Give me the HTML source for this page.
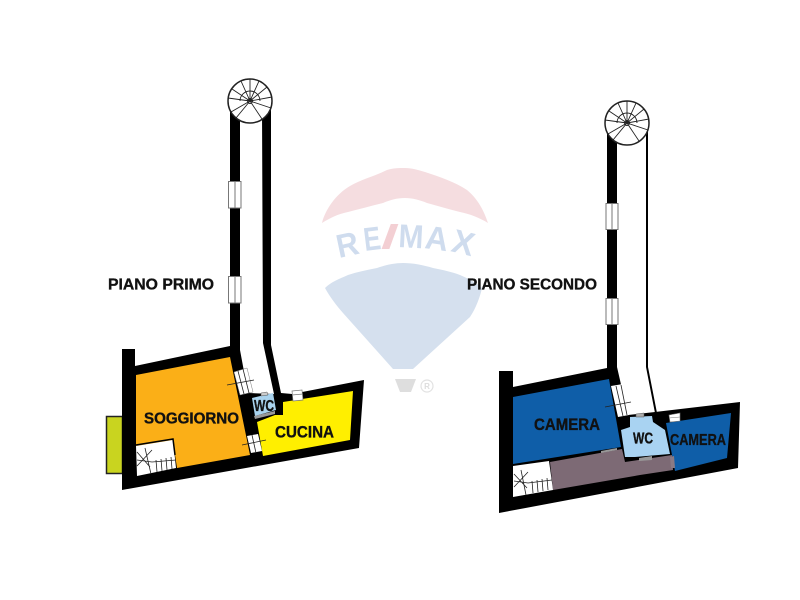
<!DOCTYPE html>
<html>
<head>
<meta charset="utf-8">
<style>
html,body{margin:0;padding:0;background:#fff;}
svg{display:block;}
text{font-family:"Liberation Sans",sans-serif;font-weight:bold;}
.l{fill:#111;stroke:#111;stroke-width:.35px;}
</style>
</head>
<body>
<svg width="800" height="600" viewBox="0 0 800 600" xmlns="http://www.w3.org/2000/svg">
<rect width="800" height="600" fill="#fff"/>

<!-- Balloon watermark -->
<path d="M322 223 C325 210 336 194 350 186 C362 179 375 176 387 170 C393 168 399 168 405 168 C412 168 418 170 425 172 C440 177 455 182 467 190 C478 199 484 211 488 223 C480 218 470 214 460 212 C448 209 438 206 427 203 C420 200 412 198 405 198 C397 198 390 200 383 203 C371 206 360 209 348 212 C338 214 330 218 322 223Z" fill="#f5dde0"/>
<path d="M325 288 C331 282 339 279 348 275 C357 272 367 270 377 268 C386 265 394 263 403 263 C413 263 423 265 433 268 C443 270 452 272 460 275 C469 279 477 283 482 288 C480 297 476 308 470 317 L413 369 L393 369 L343 313 C336 305 330 297 325 288Z" fill="#d5e0ee"/>
<path d="M395 379 L416 379 L411 392 L400 392Z" fill="#dedede"/>
<circle cx="427" cy="386" r="6" fill="none" stroke="#e2e2e2" stroke-width="1.200"/>
<text x="427" y="389" font-size="8" text-anchor="middle" style="fill:#dddddd">R</text>
<g font-size="33">
<text transform="translate(339 258) rotate(-12)" textLength="22" lengthAdjust="spacingAndGlyphs" style="fill:#cfdcee">R</text>
<text transform="translate(365 251) rotate(-7)" textLength="17" lengthAdjust="spacingAndGlyphs" style="fill:#cfdcee">E</text>
<text transform="translate(381 248)" textLength="18" lengthAdjust="spacingAndGlyphs" style="fill:#f3cfd3">/</text>
<text transform="translate(398 247) rotate(3)" textLength="25" lengthAdjust="spacingAndGlyphs" style="fill:#cfdcee">M</text>
<text transform="translate(424 248) rotate(8)" textLength="23" lengthAdjust="spacingAndGlyphs" style="fill:#cfdcee">A</text>
<text transform="translate(450 251) rotate(14)" textLength="22" lengthAdjust="spacingAndGlyphs" style="fill:#cfdcee">X</text>
</g>

<!-- PLAN 1 -->
<rect x="106.500" y="416.500" width="16" height="57" fill="#c9d41f" stroke="#222" stroke-width="1.500"/>
<path d="M122 349 L135 349 L135 366 L230 346 L230 108 L240 108 L240 350 L248 393 L274 394 L263 343 L262 108 L271 108 L271 345 L281 393 L292 394 L364 380 L359 448 L122 490Z" fill="#000"/>
<path d="M136 375 L230 357 L250 455 L177 468 L173 441 L136 446Z" fill="#fbaf17"/>
<path d="M136 446 L173 440 L176 468 L137 476Z" fill="#fff"/>
<path d="M136 445 L173 439 L175 455" fill="none" stroke="#000" stroke-width="1.500"/>
<path d="M137 452 L150 467 M137 466 L152 450 M145 448 L151 474 M137 460 L152 462 M152 462 L176 460 M156 460 L157 472 M161 459 L162 471 M166 458 L167 470 M171 457 L172 469" stroke="#222" stroke-width=".8" fill="none"/>
<path d="M257 422 L275 415 L283 415 L283 402 L353 391 L350 440 L263 456Z" fill="#ffef00"/>
<path d="M252 398 L273 393 L276 410 L255 416Z" fill="#a9d3ee"/>
<path d="M254 416 L275 411 L275 414 L255 419Z" fill="#999"/>
<path d="M261 393 L267 392 L268 395 L261 396Z" fill="#ccc" stroke="#555" stroke-width=".5"/>
<path d="M292 391 L302 390 L303 400 L293 401Z" fill="#fff" stroke="#777" stroke-width=".7"/>
<path d="M292 395 L303 394" stroke="#777" stroke-width=".7"/>
<path d="M234 372 L247 368 L253 392 L240 395Z" fill="#fff" stroke="#777" stroke-width=".5"/>
<path d="M227 385 L254 380 M238 371 L244 394 M243 369 L249 393" stroke="#222" stroke-width=".8"/>
<path d="M247 436 L258 434 L262 451 L251 453Z" fill="#fff"/>
<path d="M242 445 L266 440 M252 435 L256 453" stroke="#222" stroke-width=".8"/>

<!-- PLAN 1 tower windows -->
<g fill="#fff" stroke="#777" stroke-width="1">
<rect x="228.500" y="181.500" width="12.500" height="26.500"/>
<rect x="228.500" y="276.500" width="12.500" height="26.500"/>
</g>
<path d="M235 181 V208 M235 276 V303" stroke="#777" stroke-width="1"/>

<!-- PLAN 1 stair circle -->
<g fill="none" stroke="#222" stroke-width=".9">
<circle cx="250" cy="101" r="22" fill="#fff" stroke-width="1.500"/>
<path d="M240 101 A10 10 0 0 1 260 101"/>
<circle cx="250" cy="101" r="2.500" fill="#fff"/>
<path d="M250 101 V79 M250 101 L259 81 M250 101 L267 87 M250 101 L272 97 M250 101 L271 108 M250 101 L262 119 M250 101 L236 118 M250 101 L231 112 M250 101 L228 98 M250 101 L232 89 M250 101 L241 81"/>
</g>

<!-- PLAN 2 -->
<path d="M499 371 L513 371 L513 387 L607 368 L607 125 L617 125 L617 367 L628 415 L655 412 L740 402 L738 468 L499 513Z" fill="#000"/>
<path d="M646 125 H648 V367 L657 413 H655 L646 367Z" fill="#000"/>
<path d="M513 397 L609 379 L621 447 L513 464Z" fill="#0f5ea8"/>
<path d="M550 462 L622 449 L625 462 L672 455 L673 470 L640 475 L553 490Z" fill="#7d6a75"/>
<path d="M513 466 L549 461 L553 490 L513 497Z" fill="#fff"/>
<path d="M514 474 L527 488 M514 487 L528 472 M521 470 L526 495 M514 481 L528 483 M528 483 L552 480 M532 481 L533 493 M537 480 L538 492 M542 479 L543 491 M547 478 L548 490" stroke="#222" stroke-width=".8" fill="none"/>
<path d="M630 417 L652 416 L653 422 L665 430 L670 454 L635 457 L625 457 L621 430 L630 427Z" fill="#a9d3f2"/>
<path d="M666 423 L731 413 L727 458 L675 471Z" fill="#0f5ea8"/>
<path d="M611 386 L623 384 L629 415 L618 417Z" fill="#fff"/>
<path d="M605 407 L631 402 M616 386 L623 416 M621 385 L627 415" stroke="#222" stroke-width=".8"/>
<path d="M669 415 L680 413 L680 421 L670 422Z" fill="#fff" stroke="#777" stroke-width=".6"/>
<path d="M669 418 L680 417" stroke="#777" stroke-width=".6"/>
<path d="M636 414 L644 413 L644 417 L636 417Z" fill="#aaa" stroke="#555" stroke-width=".5"/>
<path d="M601 451 L617 448 L617 450 L601 453Z" fill="#999"/>
<path d="M639 458 L652 456 L652 460 L639 461Z" fill="#999"/>
<path d="M670 457 L674 456 L675 468 L671 468Z" fill="#8a7a84"/>

<!-- PLAN 2 tower windows -->
<g fill="#fff" stroke="#777" stroke-width="1">
<rect x="606" y="203.500" width="12" height="26"/>
<rect x="606" y="298.500" width="12" height="26"/>
</g>
<path d="M612 203 V230 M612 298 V325" stroke="#777" stroke-width="1"/>

<!-- PLAN 2 stair circle -->
<g fill="none" stroke="#222" stroke-width=".9">
<circle cx="627" cy="123" r="22" fill="#fff" stroke-width="1.500"/>
<path d="M617 123 A10 10 0 0 1 637 123"/>
<circle cx="627" cy="123" r="2.500" fill="#fff"/>
<path d="M627 123 V101 M627 123 L636 103 M627 123 L644 109 M627 123 L649 119 M627 123 L648 130 M627 123 L639 141 M627 123 L613 140 M627 123 L608 134 M627 123 L605 120 M627 123 L609 111 M627 123 L618 103"/>
</g>

<!-- Labels -->
<text class="l" x="108" y="289.500" font-size="16" textLength="106" lengthAdjust="spacingAndGlyphs">PIANO PRIMO</text>
<text class="l" x="467" y="289.500" font-size="16" textLength="130" lengthAdjust="spacingAndGlyphs">PIANO SECONDO</text>
<text class="l" x="144" y="423.500" font-size="16" textLength="95" lengthAdjust="spacingAndGlyphs">SOGGIORNO</text>
<text class="l" x="275" y="437.500" font-size="16.500" textLength="59" lengthAdjust="spacingAndGlyphs">CUCINA</text>
<text class="l" x="254" y="411" font-size="15.500" textLength="20" lengthAdjust="spacingAndGlyphs">WC</text>
<text class="l" x="534" y="430" font-size="16.500" textLength="66" lengthAdjust="spacingAndGlyphs">CAMERA</text>
<text class="l" x="633" y="443.500" font-size="15.500" textLength="20" lengthAdjust="spacingAndGlyphs">WC</text>
<text class="l" x="670" y="445" font-size="16" textLength="56" lengthAdjust="spacingAndGlyphs">CAMERA</text>
</svg>
</body>
</html>
